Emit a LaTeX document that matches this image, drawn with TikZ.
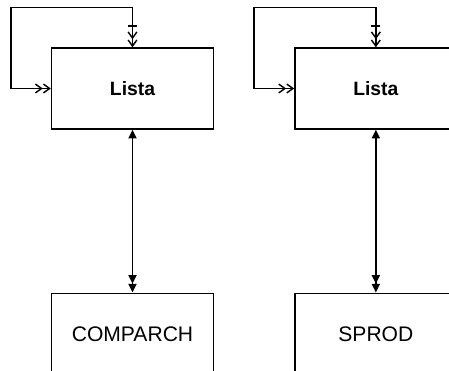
\documentclass[tikz,border=0pt]{standalone}
\usepackage{fontspec}
\setmainfont{Liberation Sans}
\usetikzlibrary{positioning, arrows.meta}

\tikzset{
  modulo/.style={draw=black, line width=0.8pt, minimum width=3.24cm, minimum height=1.62cm, inner sep=0pt},
  lazo/.style={line width=0.8pt,
    {Straight Barb[length=3.5pt,width=5pt] Straight Barb[length=3.5pt,width=5pt]}-{Bar[width=5pt,sep=2.5pt] Straight Barb[length=3.5pt,width=5pt] Straight Barb[length=3.5pt,width=5pt]}},
  enlace/.style={line width=1.1pt, {Triangle[length=5pt,width=4.5pt]}-{Triangle[length=5pt,width=4.5pt] Triangle[length=5pt,width=4.5pt]}}
}

\begin{document}
\begin{tikzpicture}[x=0.02cm, y=-0.02cm]
\clip (0,0) rectangle (449,371);
\useasboundingbox (0,0) rectangle (449,371);

\node[modulo] (lista1) at (132.5,88.5) {\fontsize{11}{13}\selectfont\bfseries Lista};
\node[modulo, right=1.6cm of lista1] (lista2) {\fontsize{11}{13}\selectfont\bfseries Lista};
\node[modulo, below=3.26cm of lista1] (comparch) {\fontsize{12}{14}\selectfont COMPARCH};
\node[modulo, below=3.26cm of lista2] (sprod) {\fontsize{12}{14}\selectfont SPROD};

%lazos
\draw[lazo] (lista1.west) -- ++(-40,0) |- ([yshift=0.8cm]lista1.north) -- (lista1.north);
\draw[lazo] (lista2.west) -- ++(-40,0) |- ([yshift=0.8cm]lista2.north) -- (lista2.north);

\draw[enlace] (lista1.south) -- (comparch.north);
\draw[enlace] (lista2.south) -- (sprod.north);
\end{tikzpicture}
\end{document}
